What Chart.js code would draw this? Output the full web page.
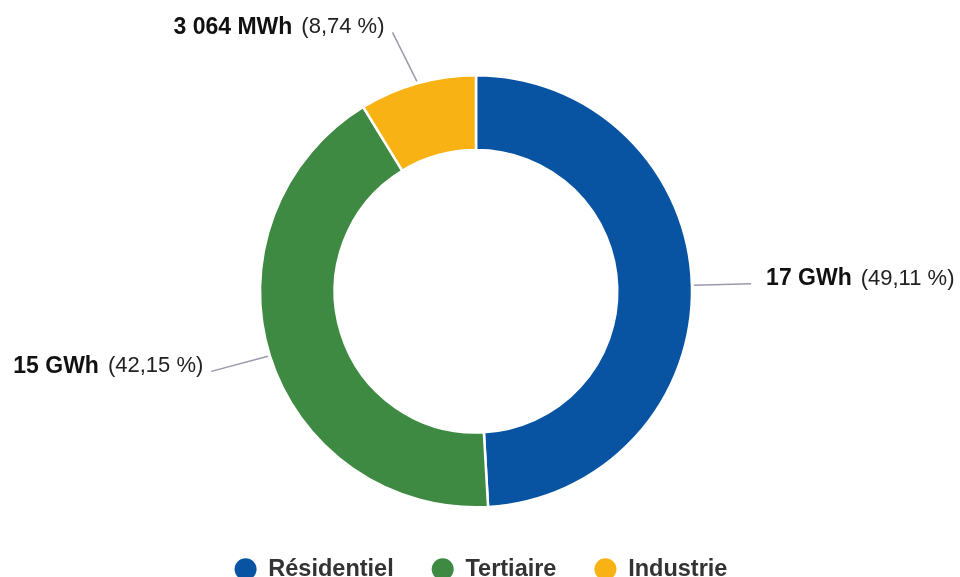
<!DOCTYPE html>
<html>
<head>
<meta charset="utf-8">
<script src="https://cdn.jsdelivr.net/npm/chart.js@4"></script>
<style>
  html, body { margin: 0; padding: 0; background: #fff; overflow: hidden; }
  #wrap { width: 960px; height: 577px; }
</style>
</head>
<body>
<div id="wrap"><canvas id="donut"></canvas></div>
<script>
const secteurs = ['Résidentiel', 'Tertiaire', 'Industrie'];
const libelles = ['17 GWh', '15 GWh', '3 064 MWh'];
const parts = ['49,11 %', '42,15 %', '8,74 %'];
const partsNum = [49.11, 42.15, 8.74];
const couleurs = ['#0854a3', '#3f8a43', '#f9b213'];

const police = '"Liberation Sans", Arial, Helvetica, sans-serif';

// étiquettes avec trait de liaison
const etiquettes = {
  id: 'etiquettes',
  afterLayout(chart) {
    // la légende d'origine est un peu décalée à droite
    chart.legend.left += 5;
    chart.legend.right += 5;
  },
  afterDatasetsDraw(chart) {
    const ctx = chart.ctx;
    const arcs = chart.getDatasetMeta(0).data;
    arcs.forEach((arc, i) => {
      const p = arc.getProps(['x', 'y', 'startAngle', 'endAngle', 'outerRadius']);
      const a = (p.startAngle + p.endAngle) / 2;
      const cos = Math.cos(a), sin = Math.sin(a);
      const sens = cos >= 0 ? 1 : -1;
      const x1 = p.x + cos * (p.outerRadius + 2);
      const y1 = p.y + sin * (p.outerRadius + 2);
      const x2 = p.x + cos * (p.outerRadius + 56) + sens * (3 + 7 * Math.abs(sin));
      const y2 = p.y + sin * (p.outerRadius + 56) - 3 * sin;
      ctx.save();
      ctx.strokeStyle = '#9b99ab';
      ctx.lineWidth = 1.5;
      ctx.beginPath();
      ctx.moveTo(x1, y1);
      ctx.lineTo(x2, y2);
      ctx.stroke();

      const gras = 'bold 23px ' + police;
      const normal = '22px ' + police;
      ctx.font = gras;
      const w1 = ctx.measureText(libelles[i]).width;
      ctx.font = normal;
      const txt2 = '(' + parts[i] + ')';
      const w2 = ctx.measureText(txt2).width;
      const gap = 9;
      const total = w1 + gap + w2;
      const x0 = sens > 0 ? x2 + 15 : x2 - 8 - total;
      const y = y2 - 5;
      ctx.textBaseline = 'middle';
      ctx.textAlign = 'left';
      ctx.fillStyle = '#111';
      ctx.font = gras;
      ctx.fillText(libelles[i], x0, y);
      ctx.fillStyle = '#222';
      ctx.font = normal;
      ctx.fillText(txt2, x0 + w1 + gap, y);
      ctx.restore();
    });
  }
};

new Chart(document.getElementById('donut'), {
  type: 'doughnut',
  data: {
    labels: secteurs,
    datasets: [{
      data: partsNum,
      backgroundColor: couleurs,
      borderColor: '#ffffff',
      borderWidth: 2.5,
      radius: 216,
      cutout: 148.5
    }]
  },
  options: {
    responsive: true,
    maintainAspectRatio: false,
    animation: false,
    layout: { padding: { top: 63, left: 0, right: 8, bottom: -14 } },
    plugins: {
      tooltip: { enabled: false },
      legend: {
        position: 'bottom',
        labels: {
          usePointStyle: true,
          pointStyle: 'circle',
          pointStyleWidth: 22,
          boxHeight: 15.5,
          padding: 38,
          color: '#333',
          font: { family: police, size: 23.5, weight: 'bold' },
          generateLabels(chart) {
            const items = Chart.overrides.doughnut.plugins.legend.labels.generateLabels(chart);
            items.forEach(it => { it.lineWidth = 0; });
            return items;
          }
        }
      }
    }
  },
  plugins: [etiquettes]
});
</script>
</body>
</html>
